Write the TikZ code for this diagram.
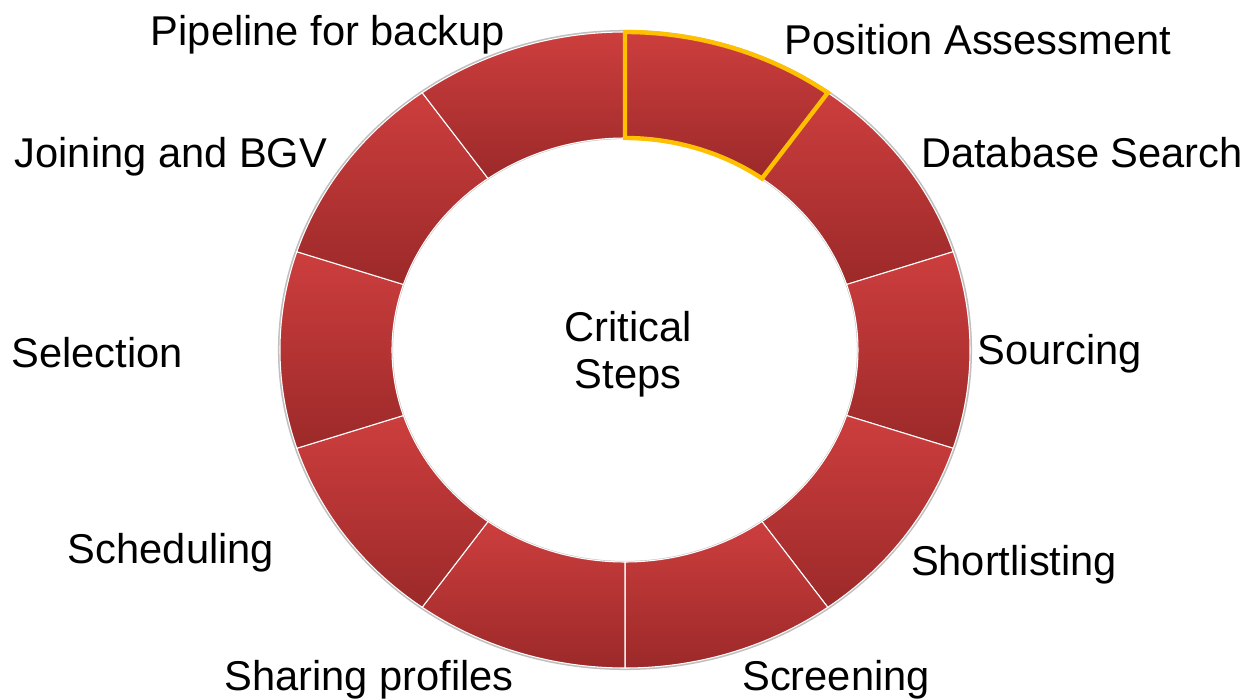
\documentclass[tikz,border=0pt]{standalone}
\usepackage{fontspec}
\setmainfont{Liberation Sans}
\usepackage{tikz}
\usetikzlibrary{positioning}
\definecolor{segtop}{RGB}{205,62,62}
\definecolor{segbot}{RGB}{156,41,41}
\definecolor{hilite}{RGB}{255,192,0}

\begin{document}
\begin{tikzpicture}[
    x=0.02cm, y=0.02cm,
    font=\fontsize{23.7}{28}\selectfont,
    seg/.style    ={draw=white, line width=0.6pt, top color=segtop, bottom color=segbot},
    pick/.style   ={draw=hilite, line width=2.5pt, line join=miter},
    step lbl/.style={anchor=base, inner sep=0pt, text=black},
    rim/.style    ={draw=black!25, line width=1.2pt},
  ]
  \useasboundingbox (-625,-350) rectangle (630,350);
  % faint rim shadow under the ring
  \draw[rim] (0,0) ellipse [x radius=346, y radius=319];
  \draw[rim] (0,0) ellipse [x radius=233, y radius=212];
  % ten ring segments, clockwise from the top
  \foreach \i in {0,...,9}{
    \pgfmathsetmacro{\ta}{90-36*\i}
    \pgfmathsetmacro{\tb}{54-36*\i}
    \path[seg] (\ta:345 and 318) arc[start angle=\ta, end angle=\tb, x radius=345, y radius=318]
      -- (\tb:233 and 212) arc[start angle=\tb, end angle=\ta, x radius=233, y radius=212] -- cycle;
  }
  % selected segment
  \draw[pick] (90:345 and 318) arc[start angle=90, end angle=54, x radius=345, y radius=318]
    -- (54:233 and 212) arc[start angle=54, end angle=90, x radius=233, y radius=212] -- cycle;
  % centre text
  \node[step lbl] (crit)  at (3,  9)  {Critical};
  \node[step lbl] (steps) at (3,-38)  {Steps};
  % step labels
  \node[step lbl] (posn)  at ( 353, 295) {Position Assessment};
  \node[step lbl] (dbase) at ( 457, 182) {Database Search};
  \node[step lbl] (src)   at ( 435, -14) {Sourcing};
  \node[step lbl] (short) at ( 389,-225) {Shortlisting};
  \node[step lbl] (scrn)  at ( 211,-340) {Screening};
  \node[step lbl] (share) at (-256,-340) {Sharing profiles};
  \node[step lbl] (sched) at (-454,-213) {Scheduling};
  \node[step lbl] (sel)   at (-528, -17) {Selection};
  \node[step lbl] (join)  at (-454, 182) {Joining and BGV};
  \node[step lbl] (pipe)  at (-297, 304) {Pipeline for backup};
\end{tikzpicture}
\end{document}
